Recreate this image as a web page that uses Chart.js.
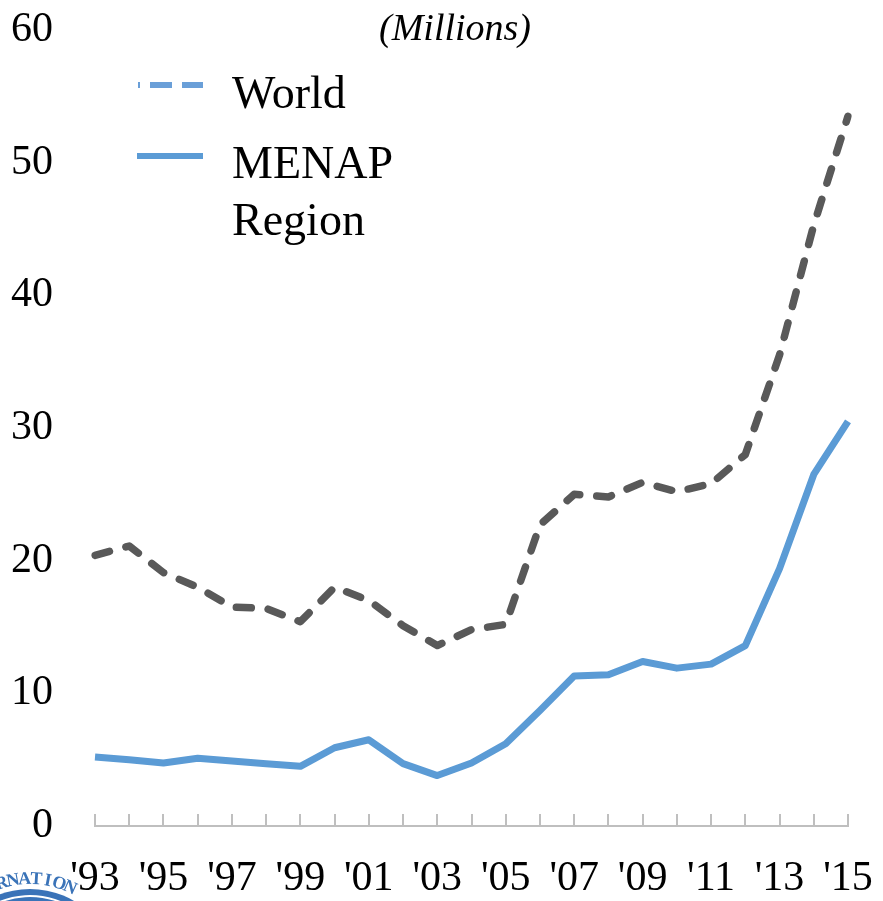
<!DOCTYPE html>
<html>
<head>
<meta charset="utf-8">
<script src="https://cdn.jsdelivr.net/npm/chart.js@4.4.1/dist/chart.umd.min.js"></script>
<style>
  html, body { margin: 0; padding: 0; background: #fff; }
  #wrap { width: 883px; height: 901px; }
</style>
</head>
<body>
<div id="wrap"><canvas id="mainchart"></canvas></div>
<script>
// years on the x axis, only every second one gets a label
const years = ["'93", "'94", "'95", "'96", "'97", "'98", "'99", "'00", "'01", "'02", "'03",
  "'04", "'05", "'06", "'07", "'08", "'09", "'10", "'11", "'12", "'13", "'14", "'15"];

const worldValues = [20.4, 21.1, 19.1, 18.0, 16.5, 16.4, 15.4, 18.0, 17.0, 15.1, 13.6,
  14.8, 15.2, 22.7, 25.0, 24.8, 25.9, 25.2, 25.8, 28.0, 35.5, 45.3, 53.5];

const menapValues = [5.2, 5.0, 4.75, 5.1, 4.9, 4.7, 4.5, 5.9, 6.5, 4.7, 3.8,
  4.75, 6.2, 8.7, 11.3, 11.4, 12.4, 11.9, 12.2, 13.6, 19.4, 26.5, 30.5];

const yTicks = [0, 10, 20, 30, 40, 50, 60];

const FONT = '"Liberation Serif", "DejaVu Serif", serif';
const GREY = '#595959';
const BLUE = '#5b9bd5';

// title, custom legend, upward tick marks and the logo corner
const extras = {
  id: 'extras',
  afterDraw(chart) {
    const ctx = chart.ctx;
    const x = chart.scales.x;
    ctx.save();

    // small tick marks pointing up from the x axis
    ctx.strokeStyle = '#bfbfbf';
    ctx.lineWidth = 2;
    years.forEach((y, i) => {
      const px = Math.round(x.getPixelForValue(i));
      ctx.beginPath();
      ctx.moveTo(px, x.top - 12);
      ctx.lineTo(px, x.top);
      ctx.stroke();
    });

    // title
    ctx.fillStyle = '#000';
    ctx.font = 'italic 38px ' + FONT;
    ctx.textAlign = 'center';
    ctx.textBaseline = 'middle';
    ctx.fillText('(Millions)', 455, 30);

    // legend
    ctx.lineWidth = 6;
    ctx.strokeStyle = '#6a9fd8';
    ctx.setLineDash([22, 10]);
    ctx.lineDashOffset = 20;
    ctx.beginPath();
    ctx.moveTo(138, 85);
    ctx.lineTo(203, 85);
    ctx.stroke();
    ctx.setLineDash([]);
    ctx.strokeStyle = BLUE;
    ctx.beginPath();
    ctx.moveTo(137, 156);
    ctx.lineTo(203, 156);
    ctx.stroke();

    ctx.font = '46px ' + FONT;
    ctx.textAlign = 'left';
    ctx.textBaseline = 'alphabetic';
    ctx.fillText('World', 232, 108);
    ctx.fillText('MENAP', 232, 178);
    ctx.fillText('Region', 232, 235);

    // corner of the logo
    const cx = 30, cy = 976;
    ctx.beginPath();
    ctx.arc(cx, cy, 87, 0, Math.PI * 2);
    ctx.fillStyle = '#3a73b8';
    ctx.fill();
    ctx.beginPath();
    ctx.arc(cx, cy, 80, Math.PI * 1.1, Math.PI * 1.9);
    ctx.strokeStyle = '#fff';
    ctx.lineWidth = 2;
    ctx.stroke();
    ctx.fillStyle = '#3a73b8';
    ctx.font = 'bold 18px ' + FONT;
    ctx.textAlign = 'center';
    ctx.textBaseline = 'alphabetic';
    const word = 'INTERNATION';
    for (let k = 0; k < word.length; k++) {
      const a = (-17 + (k - 4) * 6.9) * Math.PI / 180;
      ctx.save();
      ctx.translate(cx + 92 * Math.sin(a), cy - 92 * Math.cos(a));
      ctx.rotate(a);
      ctx.fillText(word[k], 0, 0);
      ctx.restore();
    }
    ctx.restore();
  }
};

new Chart(document.getElementById('mainchart'), {
  type: 'line',
  data: {
    labels: years,
    datasets: [
      {
        label: 'World',
        data: worldValues,
        borderColor: GREY,
        borderWidth: 7.5,
        borderDash: [15, 17],
        borderCapStyle: 'round',
        borderJoinStyle: 'round',
        pointRadius: 0,
        tension: 0,
        fill: false
      },
      {
        label: 'MENAP Region',
        data: menapValues,
        borderColor: BLUE,
        borderWidth: 7,
        borderJoinStyle: 'round',
        pointRadius: 0,
        tension: 0,
        fill: false
      }
    ]
  },
  options: {
    responsive: true,
    maintainAspectRatio: false,
    animation: false,
    layout: { padding: { left: 0, right: 35, top: 30, bottom: 0 } },
    plugins: {
      legend: { display: false },
      tooltip: { enabled: false },
      title: { display: false }
    },
    scales: {
      x: {
        offset: false,
        grid: { display: false, drawTicks: false },
        border: { display: true, color: '#bfbfbf', width: 2 },
        afterFit: axis => {
          axis.height = 75;
          axis.paddingLeft = 0;
          axis.paddingRight = 0;
        },
        ticks: {
          autoSkip: false,
          maxRotation: 0,
          padding: 28,
          color: '#000',
          font: { family: FONT, size: 42 },
          callback: (v, i) => (i % 2 === 0 ? years[i] : '')
        }
      },
      y: {
        min: 0,
        max: 60,
        afterBuildTicks: axis => { axis.ticks = yTicks.map(v => ({ value: v })); },
        afterFit: axis => {
          axis.width = 95;
          axis.paddingTop = 0;
          axis.paddingBottom = 0;
        },
        grid: { display: false, drawTicks: false },
        border: { display: false },
        ticks: {
          padding: 42,
          color: '#000',
          font: { family: FONT, size: 42 }
        }
      }
    }
  },
  plugins: [extras]
});
</script>
</body>
</html>
